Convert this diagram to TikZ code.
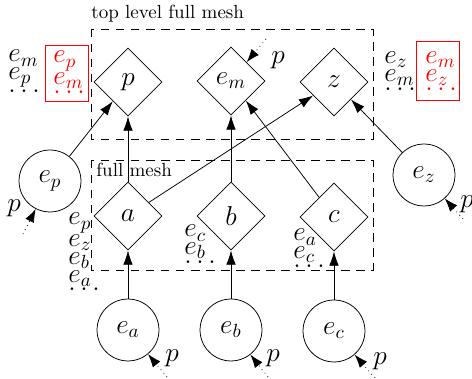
\documentclass[tikz,border=0pt]{standalone}
\usetikzlibrary{shapes.geometric,arrows.meta}
\begin{document}
\begin{tikzpicture}[x=0.5263pt,y=-0.5263pt,
  lab/.style={font=\Large},
  dia/.style={diamond,draw,minimum size=35.8pt,inner sep=0pt,lab},
  circ/.style={circle,draw,minimum size=32.6pt,inner sep=0pt,lab},
  ln/.style={lab,inner sep=0pt,anchor=base west},
  rln/.style={ln,text=red},
  redbox/.style={draw=red,inner sep=0pt},
  conn/.style={-{Latex[length=7.5pt,width=5pt]}},
  parrow/.style={dotted,-{Latex[length=7pt,width=5pt]}},
  plabel/.style={lab,inner sep=0pt},
  mesh/.style={dash pattern=on 4.4pt off 3.5pt},
]
\useasboundingbox (0,0) rectangle (472,379);
\draw[mesh] (91,29) rectangle (373,139);
\draw[mesh] (91,160) rectangle (373,270);
\node[anchor=base west, inner sep=0pt] (t1) at (91,19) {top level full mesh};
\node[anchor=base west, inner sep=0pt] (t2) at (96,177) {full mesh};

\node[dia] (p) at (128,82) {$p$};
\node[dia] (em) at (231,81) {$e_m$};
\node[dia] (z) at (334,82) {$z$};
\node[dia] (a) at (128,216) {$a$};
\node[dia] (b) at (231,216) {$b$};
\node[dia] (c) at (334,217) {$c$};
\node[circ] (ep) at (50,181) {$e_p$};
\node[circ] (ez) at (424,175) {$e_z$};
\node[circ] (ea) at (128,330) {$e_a$};
\node[circ] (eb) at (231,330) {$e_b$};
\node[circ] (ec) at (334,331) {$e_c$};

\draw[conn] (ea) -- (a);
\draw[conn] (eb) -- (b);
\draw[conn] (ec) -- (c);
\draw[conn] (a) -- (p);
\draw[conn] (b) -- (em);
\draw[conn] (a) -- (z);
\draw[conn] (c) -- (em);
\draw[conn] (ep) -- (p);
\draw[conn] (ez) -- (z);

% stacks left of p
\node[ln] (sp1) at (8,62) {$e_m$};
\node[ln] (sp2) at (8,79.8) {$e_p$};
\node[ln] (sp3) at (8,92.4) {$\dots$};
\node[redbox, minimum width=22.6pt, minimum height=29.5pt] (rp) at (66.5,73) {};
\node[rln] (rp1) at (53,63) {$e_p$};
\node[rln] (rp2) at (53,84.5) {$e_m$};
\node[rln] (rp3) at (53,93.4) {$\dots$};
% stacks right of z
\node[ln] (sz1) at (384,63.5) {$e_z$};
\node[ln] (sz2) at (384,81.3) {$e_m$};
\node[ln] (sz3) at (384,90.2) {$\dots$};
\node[redbox, minimum width=22.6pt, minimum height=31pt] (rz) at (437.5,70.5) {};
\node[rln] (rz1) at (425,63.5) {$e_m$};
\node[rln] (rz2) at (425,81.3) {$e_z$};
\node[rln] (rz3) at (425,90.2) {$\dots$};
% stack at a
\node[ln] (sa1) at (68,225) {$e_p$};
\node[ln] (sa2) at (68,246.5) {$e_z$};
\node[ln] (sa3) at (68,264.3) {$e_b$};
\node[ln] (sa4) at (68,282.1) {$e_a$};
\node[ln] (sa5) at (68,291) {$\dots$};
% stack at b
\node[ln] (sb1) at (184,237) {$e_c$};
\node[ln] (sb2) at (184,254.8) {$e_b$};
\node[ln] (sb3) at (184,263.7) {$\dots$};
% stack at c
\node[ln] (sc1) at (293,241) {$e_a$};
\node[ln] (sc2) at (293,258.8) {$e_c$};
\node[ln] (sc3) at (293,267.7) {$\dots$};

\coordinate (tm) at (266,39);
\coordinate (tp) at (23,234);
\coordinate (tz) at (463,219);
\coordinate (ta) at (167,377);
\coordinate (tb) at (268,377);
\coordinate (tc) at (375,378);
\draw[parrow] (tm) -- (em);
\draw[parrow] (tp) -- (ep);
\draw[parrow] (tz) -- (ez);
\draw[parrow] (ta) -- (ea);
\draw[parrow] (tb) -- (eb);
\draw[parrow] (tc) -- (ec);
\node[plabel] (lm) at (278,60) {$p$};
\node[plabel] (lp) at (14,208) {$p$};
\node[plabel] (lz) at (467,204) {$p$};
\node[plabel] (la) at (172,358) {$p$};
\node[plabel] (lb) at (273,358) {$p$};
\node[plabel] (lc) at (380,361) {$p$};
\end{tikzpicture}
\end{document}
